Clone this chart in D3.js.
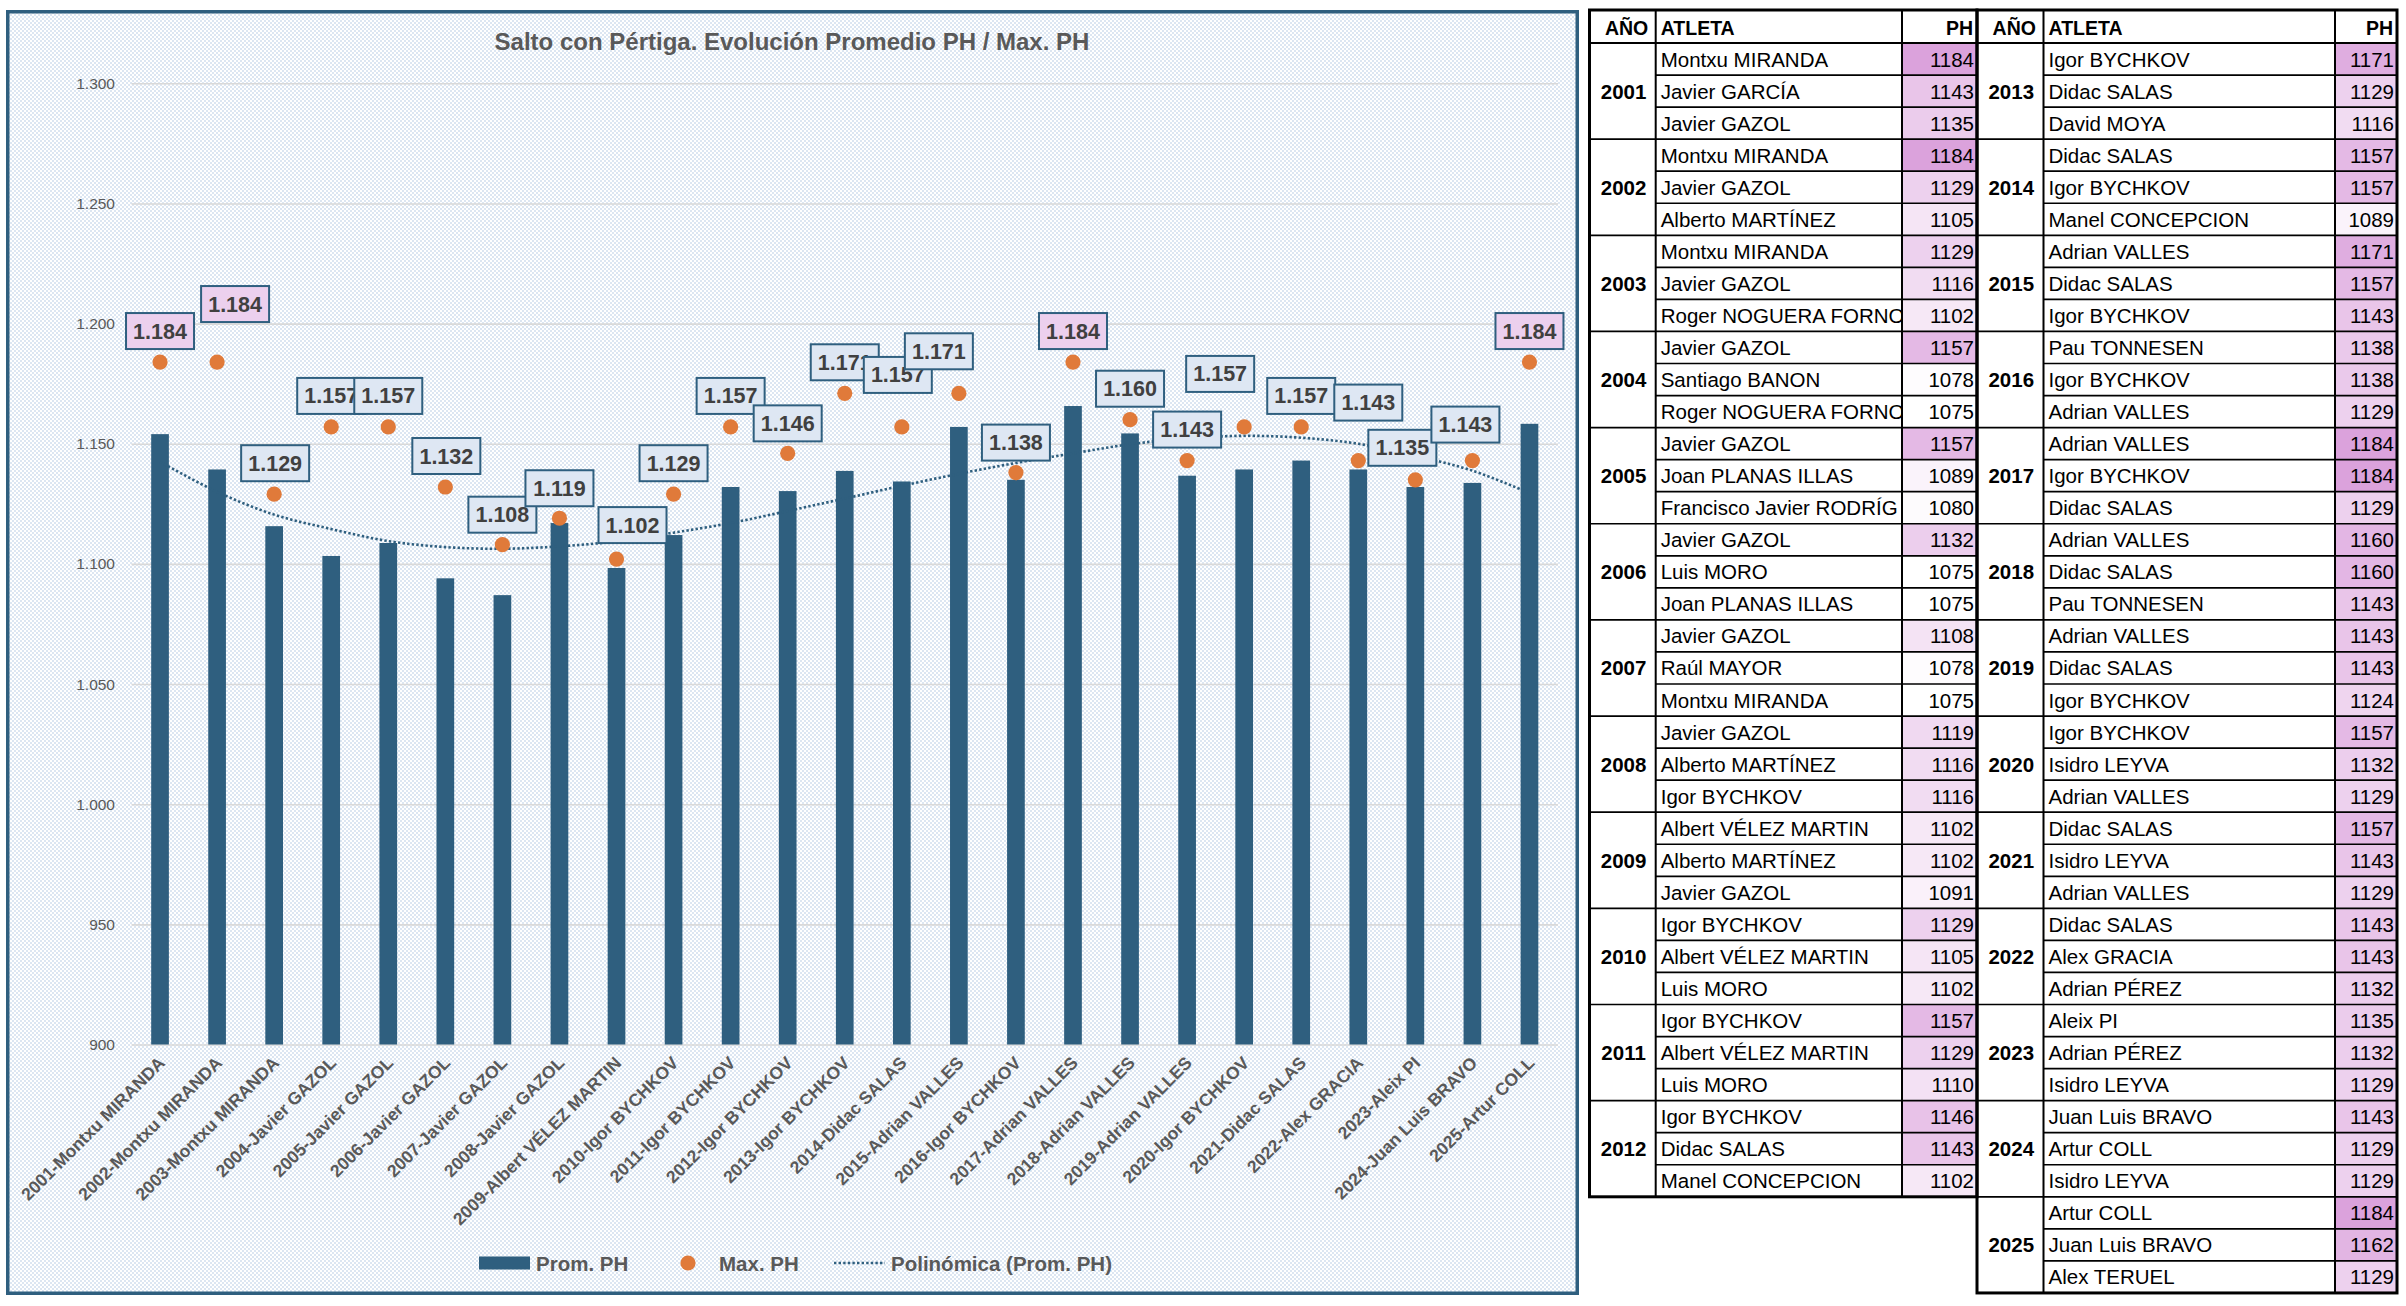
<!DOCTYPE html>
<html>
<head>
<meta charset="utf-8">
<script src="https://cdn.jsdelivr.net/npm/d3@7"></script>
<style>
  body { margin: 0; background: #ffffff; }
  text { font-family: "Liberation Sans", Arial, sans-serif; }
</style>
</head>
<body>
<div id="chart"></div>
<script>
// ---- datos ----
let anos = ["2001", "2002", "2003", "2004", "2005", "2006", "2007", "2008", "2009", "2010", "2011", "2012", "2013",
    "2014", "2015", "2016", "2017", "2018", "2019", "2020", "2021", "2022", "2023", "2024", "2025"];
let nombresEje = ["Montxu MIRANDA", "Montxu MIRANDA", "Montxu MIRANDA", "Javier GAZOL", "Javier GAZOL", "Javier GAZOL",
    "Javier GAZOL", "Javier GAZOL", "Albert VÉLEZ MARTIN", "Igor BYCHKOV", "Igor BYCHKOV", "Igor BYCHKOV", "Igor BYCHKOV",
    "Didac SALAS", "Adrian VALLES", "Igor BYCHKOV", "Adrian VALLES", "Adrian VALLES", "Adrian VALLES", "Igor BYCHKOV",
    "Didac SALAS", "Alex GRACIA", "Aleix PI", "Juan Luis BRAVO", "Artur COLL"];
let promPH = [1154, 1139.3, 1115.7, 1103.3, 1108.7, 1094, 1087, 1117, 1098.3, 1112, 1132, 1130.3, 1138.7,
    1134.3, 1157, 1135, 1165.7, 1154.3, 1136.7, 1139.3, 1143, 1139.3, 1132, 1133.7, 1158.3];
let maxPH = [1184, 1184, 1129, 1157, 1157, 1132, 1108, 1119, 1102, 1129, 1157, 1146, 1171,
    1157, 1171, 1138, 1184, 1160, 1143, 1157, 1157, 1143, 1135, 1143, 1184];
let tendencia = [1142.5, 1130, 1120.5, 1114.5, 1109.5, 1107, 1106.3, 1107.3, 1109.4, 1113, 1117, 1122, 1127.2,
    1132.5, 1137.5, 1142, 1146, 1149.8, 1152.2, 1153.3, 1152.5, 1150, 1145, 1138.8, 1129.5];
let yTicks = [900, 950, 1000, 1050, 1100, 1150, 1200, 1250, 1300];

// nombres tal como se ven (cortados) en la tabla
let atletas = [
    ["Montxu MIRANDA", "Javier GARCÍA", "Javier GAZOL"],
    ["Montxu MIRANDA", "Javier GAZOL", "Alberto MARTÍNEZ"],
    ["Montxu MIRANDA", "Javier GAZOL", "Roger NOGUERA FORNO"],
    ["Javier GAZOL", "Santiago BANON", "Roger NOGUERA FORNO"],
    ["Javier GAZOL", "Joan PLANAS ILLAS", "Francisco Javier RODRÍG"],
    ["Javier GAZOL", "Luis MORO", "Joan PLANAS ILLAS"],
    ["Javier GAZOL", "Raúl MAYOR", "Montxu MIRANDA"],
    ["Javier GAZOL", "Alberto MARTÍNEZ", "Igor BYCHKOV"],
    ["Albert VÉLEZ MARTIN", "Alberto MARTÍNEZ", "Javier GAZOL"],
    ["Igor BYCHKOV", "Albert VÉLEZ MARTIN", "Luis MORO"],
    ["Igor BYCHKOV", "Albert VÉLEZ MARTIN", "Luis MORO"],
    ["Igor BYCHKOV", "Didac SALAS", "Manel CONCEPCION"],
    ["Igor BYCHKOV", "Didac SALAS", "David MOYA"],
    ["Didac SALAS", "Igor BYCHKOV", "Manel CONCEPCION"],
    ["Adrian VALLES", "Didac SALAS", "Igor BYCHKOV"],
    ["Pau TONNESEN", "Igor BYCHKOV", "Adrian VALLES"],
    ["Adrian VALLES", "Igor BYCHKOV", "Didac SALAS"],
    ["Adrian VALLES", "Didac SALAS", "Pau TONNESEN"],
    ["Adrian VALLES", "Didac SALAS", "Igor BYCHKOV"],
    ["Igor BYCHKOV", "Isidro LEYVA", "Adrian VALLES"],
    ["Didac SALAS", "Isidro LEYVA", "Adrian VALLES"],
    ["Didac SALAS", "Alex GRACIA", "Adrian PÉREZ"],
    ["Aleix PI", "Adrian PÉREZ", "Isidro LEYVA"],
    ["Juan Luis BRAVO", "Artur COLL", "Isidro LEYVA"],
    ["Artur COLL", "Juan Luis BRAVO", "Alex TERUEL"]
];
let marcas = [
    [1184, 1143, 1135], [1184, 1129, 1105], [1129, 1116, 1102], [1157, 1078, 1075], [1157, 1089, 1080],
    [1132, 1075, 1075], [1108, 1078, 1075], [1119, 1116, 1116], [1102, 1102, 1091], [1129, 1105, 1102],
    [1157, 1129, 1110], [1146, 1143, 1102], [1171, 1129, 1116], [1157, 1157, 1089], [1171, 1157, 1143],
    [1138, 1138, 1129], [1184, 1184, 1129], [1160, 1160, 1143], [1143, 1143, 1124], [1157, 1132, 1129],
    [1157, 1143, 1129], [1143, 1143, 1132], [1135, 1132, 1129], [1143, 1129, 1129], [1184, 1162, 1129]
];

// desplazamientos manuales de las etiquetas (px)
let labelDx = [0, 18, 1, 0, 0, 1, 0, 0, 16, 0, 0, 0, 0, -4, -20, 0, 0, 0, 0, -24, 0, 10, -13, -7, 0];
let labelDy = [0, -27, 0, 0, 0, 0, 1, 1, -3, 0, 0, 1, 0, -21, -11, 1, 0, 0, 0, -22, 0, -27, -1, -5, 0];

let azul = "#2F5F7F";
let naranja = "#E07A3A";
let gris = "#595959";

let svgWidth = 2406;
let svgHeight = 1306;
let svg = d3.select("#chart").append("svg")
    .attr("width", svgWidth)
    .attr("height", svgHeight);

let es = d3.formatLocale({ decimal: ",", thousands: ".", grouping: [3], currency: ["", " €"] });
let fmt = es.format(",");

// fondo tramado
let defs = svg.append("defs");
let pat = defs.append("pattern")
    .attr("id", "trama")
    .attr("patternUnits", "userSpaceOnUse")
    .attr("width", 4)
    .attr("height", 4);
pat.append("rect").attr("width", 4).attr("height", 4).attr("fill", "#ffffff");
pat.append("rect").attr("width", 2).attr("height", 2).attr("fill", "#DCE6F2");
pat.append("rect").attr("x", 2).attr("y", 2).attr("width", 2).attr("height", 2).attr("fill", "#DCE6F2");

svg.append("rect")
    .attr("x", 7.75).attr("y", 11.75)
    .attr("width", 1569.5).attr("height", 1281.5)
    .attr("fill", "url(#trama)")
    .attr("stroke", azul)
    .attr("stroke-width", 3.5);

svg.append("text")
    .attr("x", 792).attr("y", 50)
    .attr("text-anchor", "middle")
    .attr("font-size", 24)
    .attr("font-weight", "bold")
    .attr("fill", gris)
    .text("Salto con Pértiga. Evolución Promedio PH / Max. PH");

// escalas
let plotLeft = 131.5, plotRight = 1558;
let x = d3.scaleBand()
    .domain(anos)
    .range([plotLeft, plotRight])
    .paddingInner(0.69)
    .paddingOuter(0.345);
let y = d3.scaleLinear()
    .domain([900, 1300])
    .range([1044.5, 83.3]);
let cx = i => x(anos[i]) + x.bandwidth() / 2;

// rejilla y eje Y
let yAxis = svg.append("g")
    .attr("transform", `translate(${plotLeft},0)`)
    .call(d3.axisLeft(y).tickValues(yTicks).tickFormat(fmt)
        .tickSize(-(plotRight - plotLeft)).tickPadding(16.5));
yAxis.select(".domain").remove();
yAxis.selectAll("line").attr("stroke", "#D9D9D9").attr("stroke-width", 1.6);
yAxis.selectAll("text")
    .attr("font-size", 15.5)
    .attr("fill", gris)
    .style("font-family", "'Liberation Sans', Arial, sans-serif");

// barras
svg.append("g").selectAll("rect")
    .data(promPH)
    .enter()
    .append("rect")
    .attr("x", (d, i) => x(anos[i]))
    .attr("y", d => y(d))
    .attr("width", x.bandwidth())
    .attr("height", d => y(900) - y(d))
    .attr("fill", azul);

// linea de tendencia polinomica
let linea = d3.line()
    .x((d, i) => cx(i))
    .y(d => y(d))
    .curve(d3.curveCatmullRom);
svg.append("path")
    .datum(tendencia)
    .attr("d", linea)
    .attr("fill", "none")
    .attr("stroke", azul)
    .attr("stroke-width", 2.6)
    .attr("stroke-dasharray", "2.4,2.2");

// puntos Max. PH
svg.append("g").selectAll("circle")
    .data(maxPH)
    .enter()
    .append("circle")
    .attr("cx", (d, i) => cx(i))
    .attr("cy", d => y(d))
    .attr("r", 7.6)
    .attr("fill", naranja);

// etiquetas de datos
let topMax = d3.max(maxPH);
let etq = svg.append("g").selectAll("g")
    .data(maxPH)
    .enter()
    .append("g")
    .attr("transform", (d, i) => `translate(${cx(i) - 34 + labelDx[i]}, ${y(d) - 49 + labelDy[i]})`);
etq.append("rect")
    .attr("width", 68)
    .attr("height", 36)
    .attr("fill", d => d === topMax ? "#ECD0EE" : "#DEE7F3")
    .attr("stroke", azul)
    .attr("stroke-width", 2);
etq.append("text")
    .attr("x", 34)
    .attr("y", 25.5)
    .attr("text-anchor", "middle")
    .attr("font-size", 21.5)
    .attr("font-weight", "bold")
    .attr("fill", "#404040")
    .text(d => fmt(d));

// etiquetas del eje X
svg.append("g").selectAll("text")
    .data(anos)
    .enter()
    .append("text")
    .attr("transform", (d, i) => `translate(${cx(i) + 6}, 1064) rotate(-45)`)
    .attr("text-anchor", "end")
    .attr("font-size", 17.5)
    .attr("font-weight", "bold")
    .attr("fill", gris)
    .text((d, i) => d + "-" + nombresEje[i]);

// leyenda
let ley = svg.append("g");
ley.append("rect").attr("x", 479).attr("y", 1256.5).attr("width", 51).attr("height", 13).attr("fill", azul);
ley.append("text").attr("x", 536).attr("y", 1270.5).text("Prom. PH");
ley.append("circle").attr("cx", 688).attr("cy", 1263).attr("r", 7.6).attr("fill", naranja);
ley.append("text").attr("x", 719).attr("y", 1270.5).text("Max. PH");
ley.append("line").attr("x1", 834).attr("x2", 885).attr("y1", 1263).attr("y2", 1263)
    .attr("stroke", azul).attr("stroke-width", 2.6).attr("stroke-dasharray", "2.4,2.2");
ley.append("text").attr("x", 891).attr("y", 1270.5).text("Polinómica (Prom. PH)");
ley.selectAll("text")
    .attr("font-size", 20.5)
    .attr("font-weight", "bold")
    .attr("fill", gris);

//---------------------------------------------------------------------------------------------
// tablas de la derecha

let color = d3.scaleLinear()
    .domain([d3.min(marcas.flat()), d3.max(marcas.flat())])
    .range(["#ffffff", "#DBA2DC"]);

let tTop = 10, headH = 33, rowH = 32.05;

function drawTable(idxs, cols) {
    // cols: [izq, año|atleta, atleta|ph, der]
    let g = svg.append("g");
    let nRows = idxs.length * 3;
    let bottom = tTop + headH + nRows * rowH;
    let clipId = "clip" + Math.round(cols[0]);
    defs.append("clipPath").attr("id", clipId)
        .append("rect")
        .attr("x", cols[1]).attr("y", tTop)
        .attr("width", cols[2] - cols[1] - 1).attr("height", bottom - tTop);

    // celdas de color
    idxs.forEach(function (yi, k) {
        marcas[yi].forEach(function (m, r) {
            g.append("rect")
                .attr("x", cols[2])
                .attr("y", tTop + headH + (k * 3 + r) * rowH)
                .attr("width", cols[3] - cols[2])
                .attr("height", rowH)
                .attr("fill", color(m));
        });
    });

    // cabecera
    g.append("text").attr("x", (cols[0] + cols[1]) / 2 + 4).attr("y", tTop + 24.5).attr("text-anchor", "middle").text("AÑO");
    g.append("text").attr("x", cols[1] + 5).attr("y", tTop + 24.5).text("ATLETA");
    g.append("text").attr("x", cols[3] - 4).attr("y", tTop + 24.5).attr("text-anchor", "end").text("PH");
    g.selectAll("text").attr("font-size", 19.5).attr("font-weight", "bold").attr("fill", "#000");

    idxs.forEach(function (yi, k) {
        let y0 = tTop + headH + k * 3 * rowH;
        g.append("text")
            .attr("x", (cols[0] + cols[1]) / 2 + 1)
            .attr("y", y0 + 1.5 * rowH + 7.5)
            .attr("text-anchor", "middle")
            .attr("font-size", 20.5)
            .attr("font-weight", "bold")
            .text(anos[yi]);
        atletas[yi].forEach(function (nm, r) {
            let yc = y0 + (r + 0.5) * rowH + 7.5;
            g.append("text")
                .attr("x", cols[1] + 5)
                .attr("y", yc)
                .attr("font-size", 20.5)
                .attr("clip-path", `url(#${clipId})`)
                .text(nm);
            g.append("text")
                .attr("x", cols[3] - 3)
                .attr("y", yc)
                .attr("text-anchor", "end")
                .attr("font-size", 20.5)
                .text(marcas[yi][r]);
        });
    });

    // lineas
    let ln = (x1, y1, x2, y2, w) => g.append("line")
        .attr("x1", x1).attr("y1", y1).attr("x2", x2).attr("y2", y2)
        .attr("stroke", "#000").attr("stroke-width", w);
    for (let r = 1; r < nRows; r++) {
        let yy = tTop + headH + r * rowH;
        let x1 = (r % 3 === 0) ? cols[0] : cols[1];
        ln(x1, yy, cols[3], yy, 1.7);
    }
    ln(cols[0], tTop + headH, cols[3], tTop + headH, 2.2);
    ln(cols[1], tTop, cols[1], bottom, 2);
    ln(cols[2], tTop, cols[2], bottom, 2);
    g.append("rect")
        .attr("x", cols[0]).attr("y", tTop)
        .attr("width", cols[3] - cols[0]).attr("height", bottom - tTop)
        .attr("fill", "none").attr("stroke", "#000").attr("stroke-width", 3);
}

drawTable(d3.range(0, 12), [1589.5, 1655.7, 1902, 1977]);
drawTable(d3.range(12, 25), [1977, 2043.5, 2335, 2397]);
</script>
</body>
</html>
